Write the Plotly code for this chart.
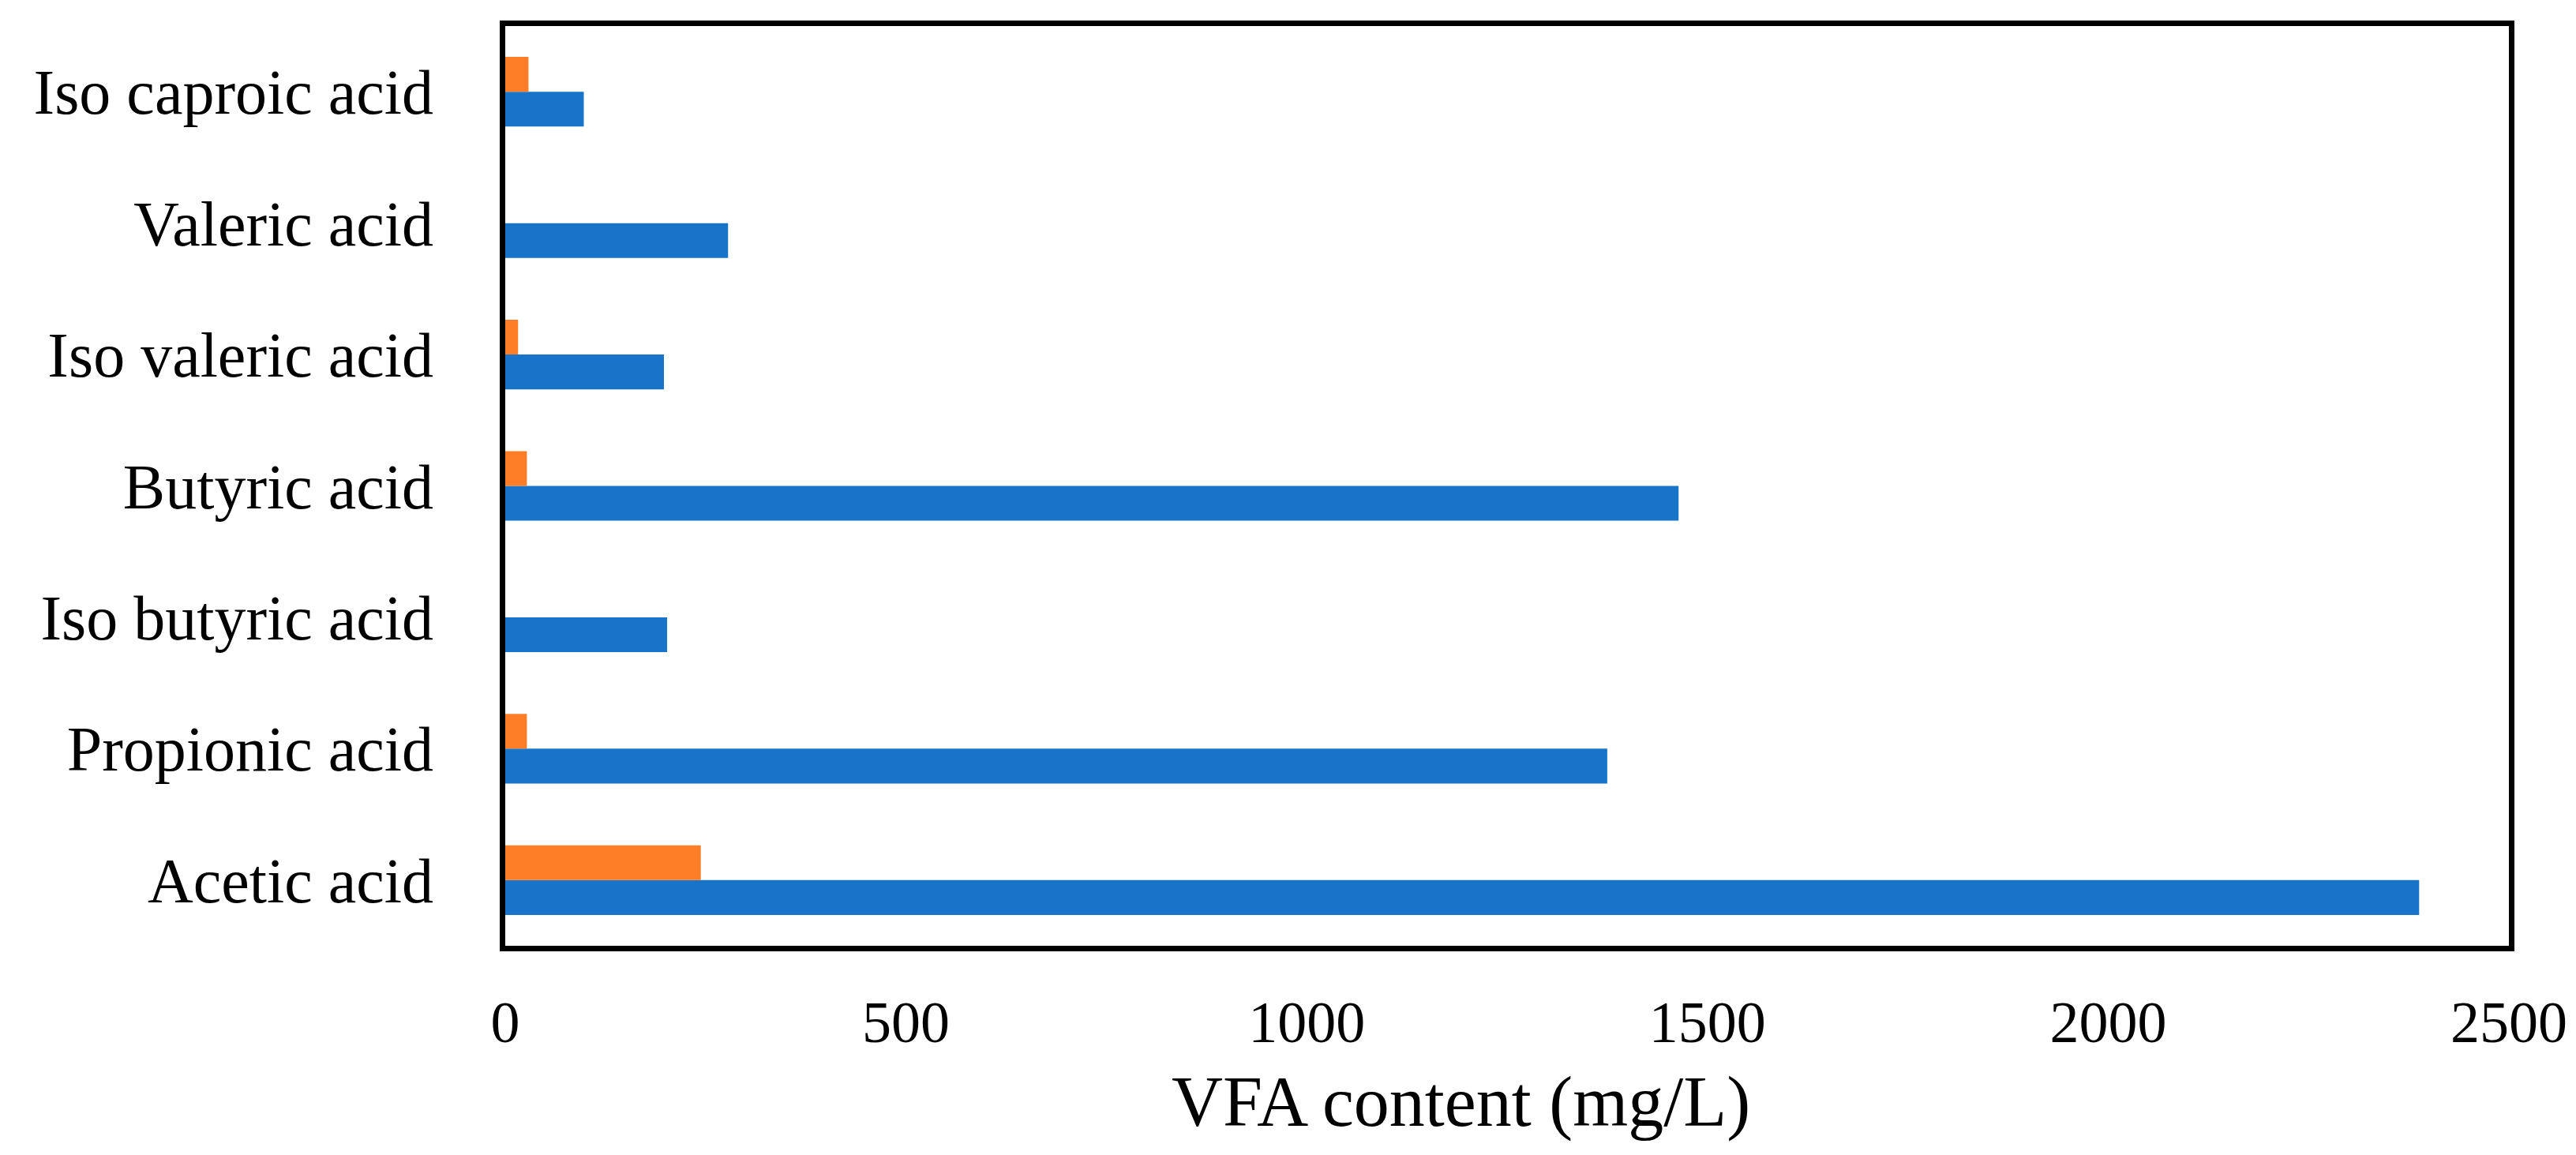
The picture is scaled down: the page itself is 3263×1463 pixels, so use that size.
import plotly.graph_objects as go

categories = ["Acetic acid", "Propionic acid", "Iso butyric acid", "Butyric acid",
              "Iso valeric acid", "Valeric acid", "Iso caproic acid"]
series_blue = [2388, 1375, 202, 1464, 198, 278, 98]
series_orange = [244, 27, 0, 27, 16, 0, 29]
x_ticks = [0, 500, 1000, 1500, 2000, 2500]
x_title = "VFA content (mg/L)"

BLUE = "#1874C8"
ORANGE = "#FE7E27"
FONT = "Liberation Serif"

fig = go.Figure()
fig.add_trace(go.Bar(y=categories, x=series_blue, orientation="h",
                     marker=dict(color=BLUE, line=dict(width=0)), name="Series 1"))
fig.add_trace(go.Bar(y=categories, x=series_orange, orientation="h",
                     marker=dict(color=ORANGE, line=dict(width=0)), name="Series 2"))

fig.update_layout(
    width=3263, height=1463,
    barmode="group", bargap=0.47, bargroupgap=0,
    showlegend=False,
    plot_bgcolor="white", paper_bgcolor="white",
    margin=dict(l=632, r=93, t=25, b=273),
    font=dict(family=FONT, size=72, color="black"),
    xaxis=dict(range=[0, 2500], tickvals=x_ticks, ticktext=[str(v) for v in x_ticks],
               showgrid=False, zeroline=False, showline=True, linecolor="black",
               linewidth=7, mirror=True, ticks="", ticklabelstandoff=26,
               tickfont=dict(family=FONT, size=74)),
    yaxis=dict(categoryorder="array", categoryarray=categories, range=[-0.5, 6.5],
               showgrid=False, zeroline=False, showline=True, linecolor="black",
               linewidth=7, mirror=True, ticks="", ticklabelstandoff=68,
               tickfont=dict(family=FONT, size=80)),
    annotations=[dict(text=x_title, xref="paper", yref="paper", x=0.477, y=-0.17,
                      xanchor="center", yanchor="middle", showarrow=False,
                      font=dict(family=FONT, size=90, color="black"))],
)

fig.write_html("out.html")
